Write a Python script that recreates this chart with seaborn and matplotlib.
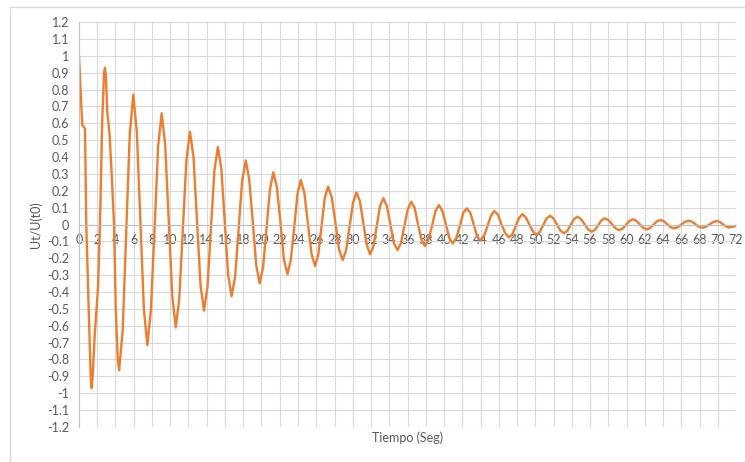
import numpy as np
import matplotlib
matplotlib.use("Agg")
import matplotlib.pyplot as plt
from matplotlib.lines import Line2D
import seaborn as sns

# valores (tiempo en seg, Ut/U(t0))
tiempo = [0.00, 0.36, 0.66, 0.80, 1.10, 1.30, 1.39, 1.50, 1.72, 2.09, 2.30, 2.55, 2.75, 2.85,
          2.95, 3.10, 3.36, 3.60, 3.84, 4.03, 4.25, 4.40, 4.79, 5.18, 5.56, 5.95, 6.34, 6.72,
          7.11, 7.49, 7.88, 8.28, 8.67, 9.06, 9.45, 9.83, 10.22, 10.60, 10.99, 11.38, 11.77,
          12.16, 12.55, 12.93, 13.32, 13.70, 14.08, 14.46, 14.84, 15.22, 15.60, 15.97, 16.35,
          16.72, 17.11, 17.50, 17.88, 18.27, 18.65, 19.04, 19.42, 19.80, 20.18, 20.55, 20.93,
          21.30, 21.69, 22.08, 22.46, 22.85, 23.21, 23.58, 23.94, 24.30, 24.69, 25.08, 25.47,
          25.86, 26.22, 26.58, 26.94, 27.30, 27.70, 28.10, 28.50, 28.90, 29.28, 29.65, 30.03,
          30.40, 30.78, 31.15, 31.53, 31.90, 32.26, 32.63, 32.99, 33.35, 33.74, 34.13, 34.51,
          34.90, 35.28, 35.65, 36.03, 36.40, 36.78, 37.15, 37.53, 37.90, 38.29, 38.68, 39.06,
          39.45, 39.83, 40.20, 40.58, 40.95, 41.34, 41.73, 42.11, 42.50, 42.88, 43.25, 43.63,
          44.00, 44.38, 44.75, 45.13, 45.50, 45.90, 46.30, 46.70, 47.10, 47.48, 47.85, 48.23,
          48.60, 48.98, 49.35, 49.73, 50.10, 50.48, 50.85, 51.23, 51.60, 51.99, 52.38, 52.76,
          53.15, 53.51, 53.88, 54.24, 54.60, 55.00, 55.40, 55.80, 56.20, 56.55, 56.90, 57.25,
          57.60, 58.00, 58.40, 58.80, 59.20, 59.58, 59.95, 60.33, 60.70, 61.08, 61.45, 61.83,
          62.20, 62.58, 62.95, 63.33, 63.70, 64.08, 64.45, 64.83, 65.20, 65.60, 66.00, 66.40,
          66.80, 67.18, 67.55, 67.93, 68.30, 68.70, 69.10, 69.50, 69.90, 70.23, 70.55, 70.88,
          71.20, 71.60, 72.00]
ut = [1.00, 0.59, 0.57, 0.00, -0.57, -0.92, -0.97, -0.90, -0.66, -0.37, 0.00, 0.62, 0.90, 0.93,
      0.88, 0.67, 0.53, 0.28, 0.00, -0.50, -0.80, -0.865, -0.63, -0.05, 0.53, 0.77, 0.55, 0.03,
      -0.50, -0.715, -0.51, -0.03, 0.46, 0.66, 0.47, 0.03, -0.42, -0.61, -0.44, -0.03, 0.38,
      0.55, 0.40, 0.02, -0.36, -0.51, -0.37, -0.03, 0.32, 0.46, 0.33, 0.02, -0.30,
      -0.425, -0.31, -0.02, 0.26, 0.38, 0.27, 0.02, -0.24, -0.35, -0.25, -0.02, 0.21,
      0.31, 0.22, 0.01, -0.21, -0.294, -0.21, -0.02, 0.18, 0.264, 0.19, 0.01, -0.17,
      -0.246, -0.18, -0.01, 0.16, 0.225, 0.16, 0.01, -0.15, -0.21, -0.15, -0.01, 0.13,
      0.19, 0.14, 0.01, -0.12, -0.177, -0.13, -0.01, 0.11, 0.156, 0.11, 0.00, -0.11,
      -0.151, -0.11, -0.01, 0.09, 0.135, 0.10, 0.00, -0.09, -0.128, -0.09, -0.01, 0.08,
      0.116, 0.08, 0.00, -0.08, -0.112, -0.08, -0.01, 0.07, 0.096, 0.07, 0.00, -0.07,
      -0.096, -0.07, -0.01, 0.05, 0.08, 0.06, 0.00, -0.05, -0.076, -0.06, -0.01, 0.04,
      0.062, 0.04, 0.00, -0.04, -0.062, -0.045, -0.005, 0.035, 0.052, 0.037, 0.00, -0.037,
      -0.052, -0.038, -0.003, 0.032, 0.046, 0.033, 0.002, -0.029, -0.043, -0.031, -0.003, 0.025,
      0.037, 0.027, 0.002, -0.023, -0.033, -0.024, -0.001, 0.022, 0.031, 0.022, 0.001, -0.020,
      -0.029, -0.021, -0.001, 0.019, 0.027, 0.020, 0.002, -0.016, -0.023, -0.016, 0.000, 0.016,
      0.023, 0.017, 0.002, -0.013, -0.019, -0.013, 0.001, 0.015, 0.021, 0.015, 0.002, -0.011,
      -0.017, -0.014, -0.007]

x_ticks = list(range(0, 73, 2))
y_ticks = [round(v / 10, 1) for v in range(-12, 13)]

#%%
sns.set_theme(style="white")
plt.rcParams['font.family'] = ['Lato', 'DejaVu Sans']

gris = '#595959'
fig = plt.figure(figsize=(7.45, 4.62), dpi=100)
ax = fig.add_axes([0.106, 0.076, 0.882, 0.876])

sns.lineplot(x=tiempo, y=ut, estimator=None, sort=False, color='#ED7D31', lw=1.7, ax=ax)

ax.set_xlim(0, 72)
ax.set_ylim(-1.2, 1.2)
ax.set_xticks(x_ticks)
ax.set_xticklabels([str(v) for v in x_ticks])
ax.set_yticks(y_ticks)
ax.set_yticklabels([f"{v:g}" for v in y_ticks])
ax.grid(True, color='#d9d9d9', lw=0.8)
ax.set_axisbelow(True)

# eje x cruzando en 0, estilo excel
ax.spines['bottom'].set_position(('data', 0))
ax.spines['top'].set_visible(False)
ax.spines['right'].set_visible(False)
for s in ['bottom', 'left']:
    ax.spines[s].set_color('#bfbfbf')
    ax.spines[s].set_linewidth(0.8)
ax.tick_params(axis='both', length=0, labelsize=9, colors=gris)
ax.tick_params(axis='x', pad=7)
ax.tick_params(axis='y', pad=7)

ax.set_xlabel('Tiempo (Seg)', fontsize=9, color=gris)
ax.set_ylabel('Ut/U(t0)', fontsize=9, color=gris)
ax.xaxis.set_label_coords(0.5, -0.012)
ax.yaxis.set_label_coords(-0.056, 0.5)

# borde del area del grafico
fig.add_artist(Line2D([10 / 745, 1], [1 - 7 / 462] * 2, transform=fig.transFigure,
                      color='#d9d9d9', lw=1))
fig.add_artist(Line2D([10 / 745] * 2, [0, 1 - 7 / 462], transform=fig.transFigure,
                      color='#d9d9d9', lw=1))

fig.savefig('out.png', dpi=100)
